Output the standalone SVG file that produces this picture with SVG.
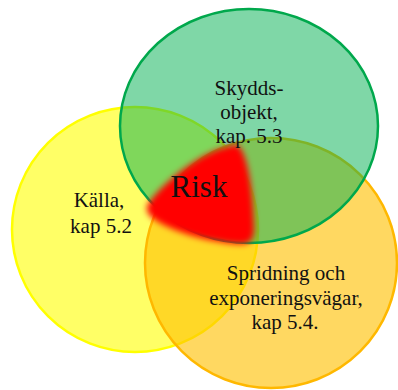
<svg xmlns="http://www.w3.org/2000/svg" width="398" height="390" viewBox="0 0 398 390">
  <defs>
    <filter id="blur" x="-20%" y="-20%" width="140%" height="140%">
      <feGaussianBlur stdDeviation="3"/>
    </filter>
  </defs>
  <style>
    .lbl { font-family: "Liberation Serif", "Times New Roman", serif; font-size: 21px; fill: #111; text-anchor: middle; }
    .risk { font-family: "Liberation Serif", "Times New Roman", serif; font-size: 31px; fill: #111; text-anchor: middle; }
  </style>
  <rect width="398" height="390" fill="#ffffff"/>
  <g id="kalla">
    <ellipse cx="135" cy="229.5" rx="123" ry="122.5" fill="#ffff66" stroke="#ffff00" stroke-width="2.5"/>
  </g>
  <g id="spridning">
    <ellipse cx="271" cy="263" rx="126" ry="125" fill="#ffc000" fill-opacity="0.62" stroke="#ffb800" stroke-width="2.5"/>
  </g>
  <g id="skyddsobjekt">
    <ellipse cx="249" cy="126" rx="129" ry="117" fill="#00b050" fill-opacity="0.5" stroke="#00a84c" stroke-width="2.5"/>
  </g>
  <g id="risk">
    <path d="M 237,145 C 247,150 253,190 254,225 C 255,240 250,245 238,244 C 210,242 172,232 154,219 C 145,213 145,206 151,200 C 165,182 200,152 230,146 C 233,145 235,144 237,145 Z" fill="#ff0000" filter="url(#blur)"/>
    <text class="risk" x="199" y="197" font-family="Liberation Serif, serif">Risk</text>
  </g>
  <g id="labels" font-family="Liberation Serif, serif">
    <text class="lbl" x="249" y="95">Skydds-</text>
    <text class="lbl" x="249" y="119">objekt,</text>
    <text class="lbl" x="249" y="143">kap. 5.3</text>
    <text class="lbl" x="99" y="207">Källa,</text>
    <text class="lbl" x="101" y="233">kap 5.2</text>
    <text class="lbl" x="286" y="280">Spridning och</text>
    <text class="lbl" x="286" y="305">exponeringsvägar,</text>
    <text class="lbl" x="285" y="329">kap 5.4.</text>
  </g>
</svg>
